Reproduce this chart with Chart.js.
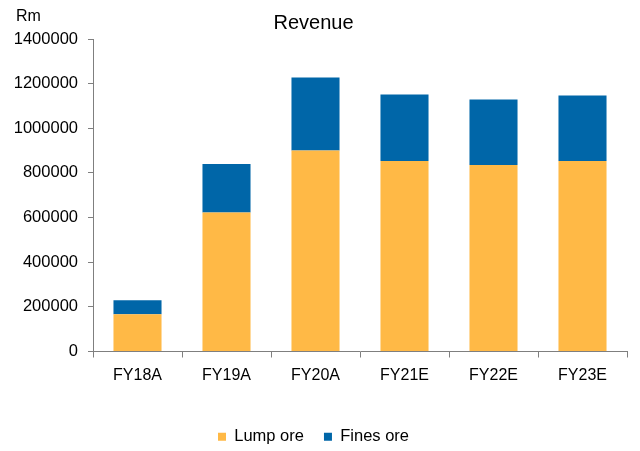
<!DOCTYPE html>
<html>
<head>
<meta charset="utf-8">
<script src="https://cdn.jsdelivr.net/npm/chart.js@4"></script>
<style>
  html, body { margin: 0; padding: 0; background: #fff; }
  #wrap { width: 640px; height: 451px; }
</style>
</head>
<body>
<div id="wrap"><canvas id="revenueChart" width="640" height="451"></canvas></div>
<script>
// Data (Rm)
const categories = ["FY18A", "FY19A", "FY20A", "FY21E", "FY22E", "FY23E"];
const lumpOre = [167000, 623000, 900000, 853000, 835000, 853000];
const finesOre = [63000, 217000, 328000, 298000, 294000, 294000];
const yTicks = [0, 200000, 400000, 600000, 800000, 1000000, 1200000, 1400000];

const FONT = "'Liberation Sans', Arial, sans-serif";

// Unit label above the y axis
const unitLabel = {
    id: "unitLabel",
    afterDraw(chart) {
        const c = chart.ctx;
        c.save();
        c.font = "16px " + FONT;
        c.fillStyle = "#000";
        c.textBaseline = "middle";
        c.textAlign = "left";
        c.fillText("Rm", 16, 17);
        c.restore();
    }
};

const ctx = document.getElementById("revenueChart").getContext("2d");

new Chart(ctx, {
    type: "bar",
    data: {
        labels: categories,
        datasets: [
            {
                label: "Lump ore",
                data: lumpOre,
                backgroundColor: "#FFB946",
                barPercentage: 0.54,
                categoryPercentage: 1
            },
            {
                label: "Fines ore",
                data: finesOre,
                backgroundColor: "#0066A8",
                barPercentage: 0.54,
                categoryPercentage: 1
            }
        ]
    },
    options: {
        responsive: false,
        animation: false,
        layout: { padding: { left: 0, right: 13, top: 0, bottom: -4 } },
        plugins: {
            title: {
                display: true,
                text: "Revenue",
                color: "#000",
                font: { family: FONT, size: 20, weight: "normal" },
                padding: { top: 11, bottom: 4 }
            },
            legend: {
                position: "bottom",
                labels: {
                    color: "#000",
                    font: { family: FONT, size: 16.5 },
                    boxWidth: 8,
                    boxHeight: 8,
                    padding: 20
                }
            },
            tooltip: { enabled: false }
        },
        scales: {
            x: {
                stacked: true,
                grid: {
                    offset: true,
                    drawOnChartArea: false,
                    tickLength: 6,
                    color: "#7f7f7f"
                },
                border: { color: "#7f7f7f", width: 1 },
                ticks: {
                    color: "#000",
                    font: { family: FONT, size: 16 },
                    padding: 8,
                    maxRotation: 0
                },
                afterFit(scale) { scale.height = 57; }
            },
            y: {
                stacked: true,
                min: 0,
                max: 1400000,
                afterBuildTicks(scale) {
                    scale.ticks = yTicks.map(v => ({ value: v }));
                },
                grid: {
                    drawOnChartArea: false,
                    tickLength: 5,
                    color: "#7f7f7f"
                },
                border: { color: "#7f7f7f", width: 1 },
                ticks: {
                    color: "#000",
                    font: { family: FONT, size: 16.5 },
                    padding: 10,
                    callback: v => String(v)
                },
                afterFit(scale) { scale.width = 93; }
            }
        }
    },
    plugins: [unitLabel]
});
</script>
</body>
</html>
